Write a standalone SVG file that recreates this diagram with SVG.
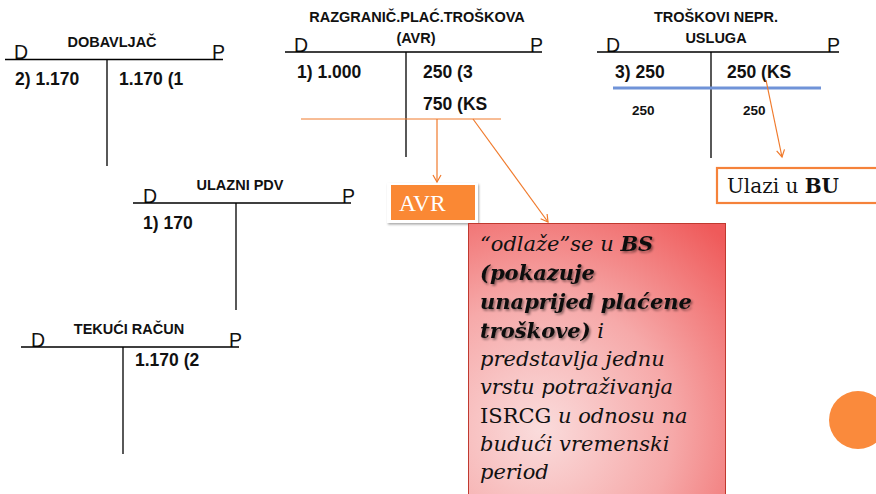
<svg xmlns="http://www.w3.org/2000/svg" width="876" height="494" viewBox="0 0 876 494">
<style>
.tl{stroke:#000;stroke-width:1.3;fill:none}
.ttl{font-family:"Liberation Sans",Arial,sans-serif;font-weight:bold;font-size:14.5px;fill:#111;text-anchor:middle}
.dp{font-family:"Liberation Sans",Arial,sans-serif;font-size:19.5px;fill:#111}
.amt{font-family:"Liberation Sans",Arial,sans-serif;font-weight:bold;font-size:17.5px;fill:#111}
.sm{font-family:"Liberation Sans",Arial,sans-serif;font-weight:bold;font-size:13.5px;fill:#111}
.con{stroke:#F07A2C;stroke-width:1.2;fill:none}
.rt{font-family:"DejaVu Serif",serif;font-style:italic;font-size:21px;fill:#111}
.b{font-weight:bold;filter:url(#sh)}
.up{font-style:normal}
</style>
<defs>
<marker id="ah" markerUnits="userSpaceOnUse" markerWidth="10" markerHeight="10" refX="8" refY="4.5" orient="auto">
<path d="M1,0.5 L8,4.5 L1,8.5" fill="none" stroke="#F07A2C" stroke-width="1.2"/>
</marker>
<radialGradient id="rg" gradientUnits="userSpaceOnUse" cx="540" cy="430" r="265">
<stop offset="0" stop-color="#FADCDC"/>
<stop offset="0.5" stop-color="#F6A9A9"/>
<stop offset="1" stop-color="#EF5A5A"/>
</radialGradient>
<filter id="sh" x="-10%" y="-20%" width="130%" height="150%">
<feDropShadow dx="1.5" dy="1.8" stdDeviation="1" flood-color="#000" flood-opacity="0.45"/>
</filter>
<filter id="bs" x="-10%" y="-10%" width="130%" height="130%">
<feDropShadow dx="1" dy="1.5" stdDeviation="1.2" flood-color="#000" flood-opacity="0.35"/>
</filter>
</defs>
<rect width="876" height="494" fill="#fff"/>

<g id="dobavljac">
<text class="ttl" x="112" y="47">DOBAVLJAČ</text>
<text class="dp" x="14" y="59">D</text>
<text class="dp" x="212" y="59">P</text>
<path class="tl" d="M5,59.5 H223 M107,59.5 V166"/>
<text class="amt" x="15" y="85">2) 1.170</text>
<text class="amt" x="119" y="85">1.170 (1</text>
</g>

<g id="avr-konto">
<text class="ttl" x="417" y="22">RAZGRANIČ.PLAĆ.TROŠKOVA</text>
<text class="ttl" x="416" y="43">(AVR)</text>
<text class="dp" x="294" y="52">D</text>
<text class="dp" x="530" y="52">P</text>
<path class="tl" d="M285,52 H542 M406,52 V157"/>
<text class="amt" x="297" y="78">1) 1.000</text>
<text class="amt" x="423" y="78">250 (3</text>
<text class="amt" x="423" y="110">750 (KS</text>
<path d="M301,119 H501" stroke="#F07A2C" stroke-width="1"/>
</g>

<g id="troskovi">
<text class="ttl" x="716" y="22">TROŠKOVI NEPR.</text>
<text class="ttl" x="716" y="43">USLUGA</text>
<text class="dp" x="606" y="52">D</text>
<text class="dp" x="827" y="52">P</text>
<path class="tl" d="M597,52 H839 M711,52 V158"/>
<text class="amt" x="615" y="78">3) 250</text>
<text class="amt" x="727" y="78">250 (KS</text>
<path d="M613,88 H821" stroke="#7093D8" stroke-width="3"/>
<text class="sm" x="632" y="115">250</text>
<text class="sm" x="743" y="115">250</text>
</g>

<g id="ulazni-pdv">
<text class="ttl" x="240" y="190">ULAZNI PDV</text>
<text class="dp" x="143" y="203">D</text>
<text class="dp" x="342" y="203">P</text>
<path class="tl" d="M133,203 H351 M236,203 V310"/>
<text class="amt" x="143" y="229">1) 170</text>
</g>

<g id="tekuci-racun">
<text class="ttl" x="129" y="334">TEKUĆI RAČUN</text>
<text class="dp" x="31" y="347">D</text>
<text class="dp" x="229" y="347">P</text>
<path class="tl" d="M21,347 H239 M123,347 V454"/>
<text class="amt" x="135" y="366">1.170 (2</text>
</g>

<g id="avr-box">
<rect x="387" y="183" width="91" height="40" fill="#fff" filter="url(#bs)"/>
<rect x="391" y="185" width="84" height="35" fill="#FA8834"/>
<text x="399" y="211" font-family="'Liberation Serif',serif" font-size="23.5" fill="#fff">AVR</text>
</g>

<g id="bu-box">
<rect x="717" y="168" width="170" height="35" fill="#fff" stroke="#F5823A" stroke-width="2.2"/>
<text x="727" y="193" font-family="'DejaVu Serif',serif" font-size="20" fill="#111">Ulazi u <tspan font-weight="bold">BU</tspan></text>
</g>

<g id="bs-box">
<rect x="468.5" y="223.5" width="257" height="280" fill="url(#rg)" stroke="#C0392F" stroke-width="1"/>
<text class="rt">
<tspan x="480" y="251">“odlaže”se u <tspan class="b">BS</tspan></tspan>
<tspan x="480" y="280" class="b">(pokazuje</tspan>
<tspan x="480" y="309" class="b">unaprijed plaćene</tspan>
<tspan x="480" y="338"><tspan class="b">troškove)</tspan> i</tspan>
<tspan x="480" y="366">predstavlja jednu</tspan>
<tspan x="480" y="394">vrstu potraživanja</tspan>
<tspan x="480" y="423"><tspan class="up">ISRCG</tspan> u odnosu na</tspan>
<tspan x="480" y="451">budući vremenski</tspan>
<tspan x="480" y="479">period</tspan>
</text>
</g>

<g id="circle">
<circle cx="858" cy="420" r="29" fill="#FA8A3C"/>
</g>

<g id="connectors">
<path class="con" d="M437,119 V182" marker-end="url(#ah)"/>
<path class="con" d="M473,119 L548,222" marker-end="url(#ah)"/>
<path class="con" d="M766,80 L782,157" marker-end="url(#ah)"/>
</g>
</svg>
